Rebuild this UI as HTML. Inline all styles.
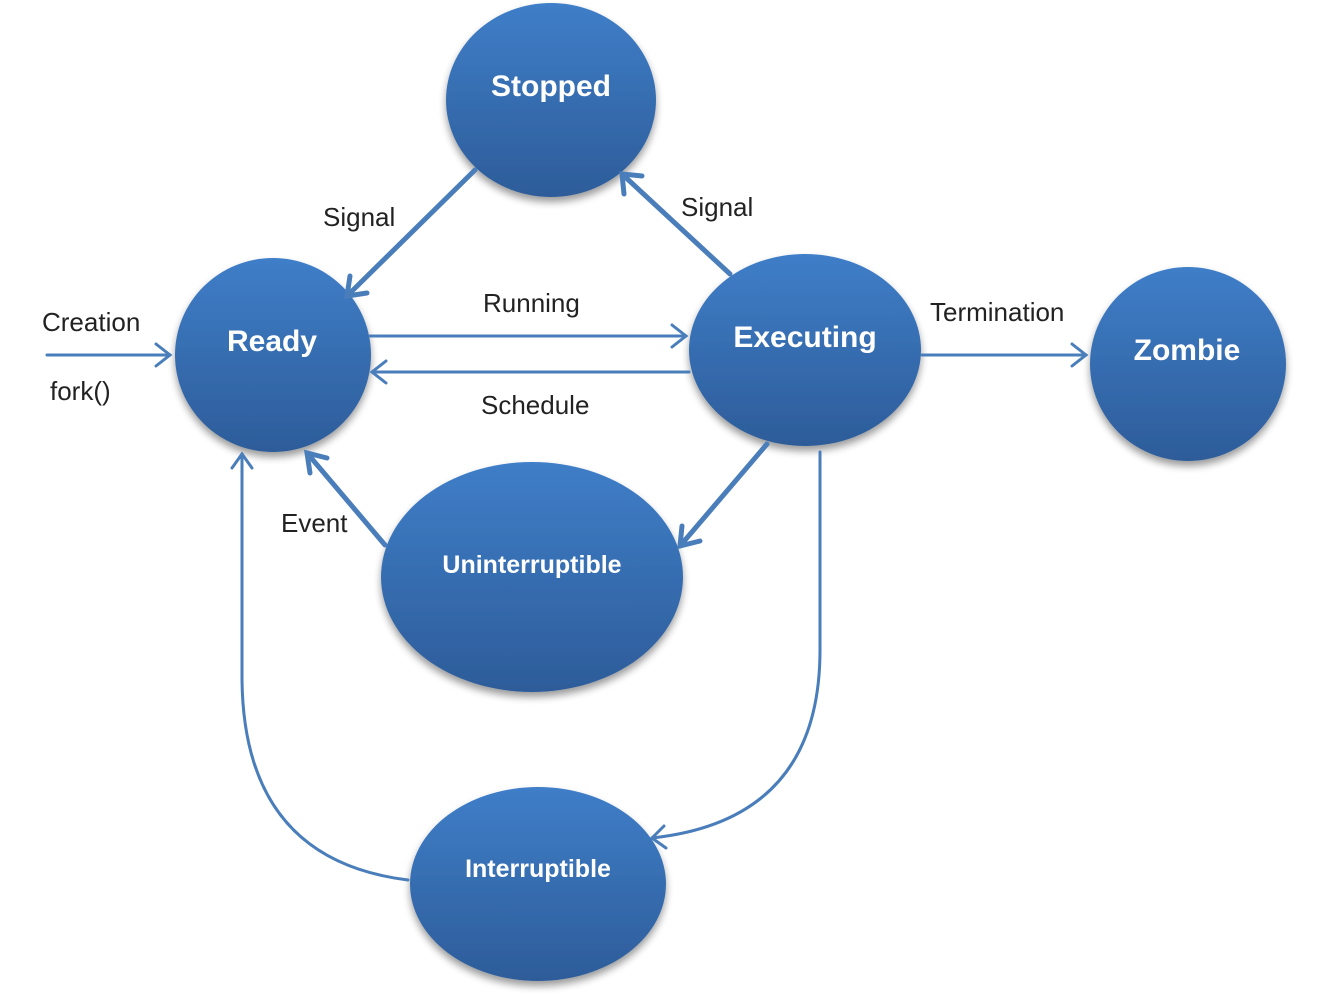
<!DOCTYPE html>
<html><head><meta charset="utf-8"><style>
html,body{margin:0;padding:0;background:#fff;}
svg{display:block;}
text{font-family:"Liberation Sans",sans-serif;}
.l{font-size:26px;fill:#222;}
.n{font-weight:bold;fill:#fff;text-anchor:middle;}
</style></head><body>
<svg width="1328" height="996" viewBox="0 0 1328 996" xmlns="http://www.w3.org/2000/svg">
<defs>
<linearGradient id="g" x1="0" y1="0" x2="0" y2="1">
<stop offset="0" stop-color="#3f7ec8"/>
<stop offset="1" stop-color="#2d5c99"/>
</linearGradient>
<filter id="s" x="-20%" y="-20%" width="140%" height="150%">
<feGaussianBlur in="SourceAlpha" stdDeviation="4"/>
<feOffset dy="5"/>
<feComponentTransfer><feFuncA type="linear" slope="0.4"/></feComponentTransfer>
<feMerge><feMergeNode/><feMergeNode in="SourceGraphic"/></feMerge>
</filter>
</defs>
<g fill="url(#g)" filter="url(#s)">
<ellipse cx="551" cy="100" rx="105" ry="97"/>
<ellipse cx="273" cy="355" rx="98" ry="97"/>
<ellipse cx="805" cy="350" rx="116" ry="96"/>
<ellipse cx="1188" cy="364" rx="98" ry="97"/>
<ellipse cx="532" cy="577" rx="151" ry="115"/>
<ellipse cx="538" cy="884" rx="128" ry="97"/>
</g>
<g stroke="#4a7ebb" fill="none" stroke-width="3" stroke-linecap="round">
<line x1="47" y1="355" x2="170" y2="355"/><polyline points="156,344 170,355 156,366"/>
<line x1="370" y1="336" x2="686" y2="336"/><polyline points="672,325 686,336 672,347"/>
<line x1="689" y1="372" x2="372" y2="372"/><polyline points="386,361 372,372 386,383"/>
<line x1="922" y1="355" x2="1086" y2="355"/><polyline points="1072,344 1086,355 1072,366"/>
<path d="M820 452 L820 650 Q820 820 652 838"/><polyline points="664,826 652,838 666,848"/>
<path d="M408 880 Q244 860 242 680 L242 454"/><polyline points="232,468 242,454 252,468"/>
</g>
<g stroke="#4a7ebb" fill="none" stroke-width="5" stroke-linecap="round">
<line x1="475" y1="170" x2="347" y2="296"/><polyline points="350,276 347,296 367,293"/>
<line x1="730" y1="274" x2="622" y2="174"/><polyline points="624,194 622,174 642,176"/>
<line x1="767" y1="444" x2="680" y2="546"/><polyline points="682,526 680,546 700,541"/>
<line x1="385" y1="545" x2="307" y2="453"/><polyline points="310,473 307,453 327,458"/>
</g>
<text class="l" x="42" y="331">Creation</text>
<text class="l" x="50" y="400">fork()</text>
<text class="l" x="323" y="226">Signal</text>
<text class="l" x="681" y="216">Signal</text>
<text class="l" x="483" y="312">Running</text>
<text class="l" x="481" y="414">Schedule</text>
<text class="l" x="930" y="321">Termination</text>
<text class="l" x="281" y="532">Event</text>
<text class="n" x="551" y="96" font-size="30">Stopped</text>
<text class="n" x="272" y="351" font-size="30">Ready</text>
<text class="n" x="805" y="347" font-size="30">Executing</text>
<text class="n" x="1187" y="360" font-size="30">Zombie</text>
<text class="n" x="532" y="573" font-size="25">Uninterruptible</text>
<text class="n" x="538" y="877" font-size="25">Interruptible</text>
</svg>
</body></html>
